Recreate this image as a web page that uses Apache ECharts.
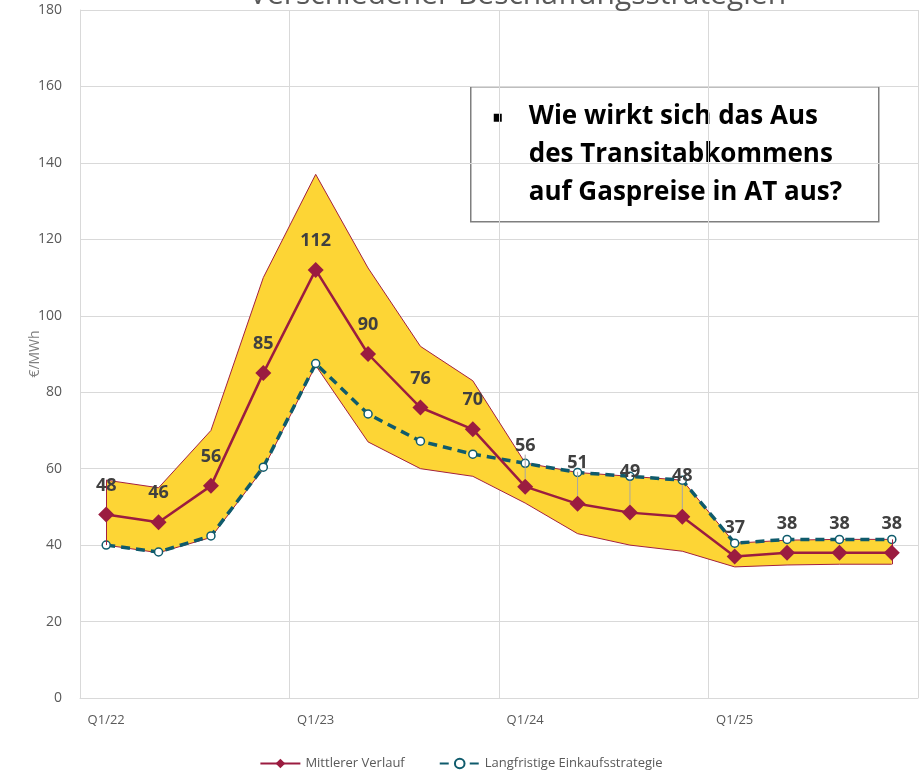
<!DOCTYPE html>
<html>
<head>
<meta charset="utf-8">
<script src="https://cdn.jsdelivr.net/npm/echarts@6/dist/echarts.min.js"></script>
<style>
  html, body { margin: 0; padding: 0; background: #fff; }
  #chart { width: 922px; height: 772px; }
</style>
</head>
<body>
<div id="chart"></div>
<script>
const quarters = ['Q1/22', 'Q2/22', 'Q3/22', 'Q4/22', 'Q1/23', 'Q2/23', 'Q3/23', 'Q4/23',
  'Q1/24', 'Q2/24', 'Q3/24', 'Q4/24', 'Q1/25', 'Q2/25', 'Q3/25', 'Q4/25']
// Bandbreite (untere / obere Grenze)
const bandLower = [40, 38, 42, 60, 87, 67, 60, 58, 51, 43, 40, 38.4, 34.3, 34.8, 35, 35]
const bandUpper = [57, 55, 70, 110, 137, 112.5, 92, 83, 61.5, 59, 58, 57, 40.5, 41.3, 41.5, 41.5]
// Mittlerer Verlauf
const midValues = [48, 46, 55.5, 85, 112, 90, 76, 70.3, 55.3, 50.8, 48.5, 47.4, 37, 38, 38, 38]
const midLabels = [48, 46, 56, 85, 112, 90, 76, 70, 56, 51, 49, 48, 37, 38, 38, 38]
// Langfristige Einkaufsstrategie
const longTerm = [40, 38.2, 42.4, 60.4, 87.5, 74.3, 67.2, 63.8, 61.4, 59, 58, 57, 40.5, 41.5, 41.5, 41.5]

const bandDiff = bandUpper.map((v, i) => v - bandLower[i])
// labels pushed up above the dashed line, with a guide line
const raisedLabels = [8, 9, 10, 11]
const midData = midValues.map((v, i) => ({
  value: v,
  labelLine: { show: raisedLabels.includes(i) }
}))

const chart = echarts.init(document.getElementById('chart'))

chart.setOption({
  animation: false,
  textStyle: { fontFamily: 'Open Sans, sans-serif' },
  graphic: [
    {
      type: 'text',
      left: 249,
      top: -20,
      style: {
        text: 'Verschiedener Beschaffungsstrategien',
        fill: '#595959',
        font: '30px "Open Sans", sans-serif'
      },
      z: 100
    },
    {
      type: 'group',
      left: 470,
      top: 86,
      children: [
        {
          type: 'rect',
          shape: { x: 0, y: 0, width: 408, height: 135 },
          style: { fill: 'rgba(0,0,0,0)', stroke: '#7f7f7f', lineWidth: 1.5 }
        },
        {
          type: 'rect',
          shape: { x: 23, y: 27, width: 8, height: 8 },
          style: { fill: '#000' }
        },
        {
          type: 'text',
          x: 58, y: 11,
          style: {
            text: 'Wie wirkt sich das Aus\ndes Transitabkommens\nauf Gaspreise in AT aus?',
            fill: '#000',
            font: 'bold 26px "Open Sans", sans-serif',
            lineHeight: 38
          }
        }
      ],
      z: 100
    }
  ],
  grid: { left: 80, right: 4, top: 10, bottom: 74 },
  legend: {
    top: 752,
    left: 'center',
    data: ['Mittlerer Verlauf', 'Langfristige Einkaufsstrategie'],
    itemWidth: 40,
    itemHeight: 12,
    itemGap: 34,
    textStyle: { color: '#595959', fontSize: 13, fontFamily: 'Open Sans, sans-serif' }
  },
  xAxis: {
    type: 'category',
    data: quarters,
    boundaryGap: true,
    axisLine: { show: true, lineStyle: { color: '#d9d9d9' } },
    axisTick: { show: false, interval: 3 },
    axisLabel: { interval: 3, color: '#595959', fontSize: 13, margin: 16 },
    splitLine: { show: true, interval: 3, lineStyle: { color: '#d9d9d9' } }
  },
  yAxis: {
    type: 'value',
    min: 0,
    max: 180,
    interval: 20,
    name: '€/MWh',
    nameLocation: 'middle',
    nameGap: 38,
    nameMoveOverlap: false,
    nameTextStyle: { color: '#7f7f7f', fontSize: 14 },
    axisLine: { show: true, lineStyle: { color: '#d9d9d9' } },
    axisTick: { show: false },
    axisLabel: { color: '#595959', fontSize: 14, margin: 18 },
    splitLine: { lineStyle: { color: '#d9d9d9' } }
  },
  series: [
    {
      name: 'Band unten',
      type: 'line',
      stack: 'band',
      data: bandLower,
      symbol: 'none',
      lineStyle: { color: '#a3203f', width: 1 },
      z: 2
    },
    {
      name: 'Bandbreite',
      type: 'line',
      stack: 'band',
      data: bandDiff,
      symbol: 'none',
      lineStyle: { color: '#a3203f', width: 1 },
      areaStyle: { color: '#fdd535', opacity: 1 },
      markLine: {
        silent: true,
        symbol: 'none',
        label: { show: false },
        lineStyle: { color: '#a3203f', width: 1, type: 'solid' },
        data: [
          [{ coord: [0, bandLower[0]] }, { coord: [0, bandUpper[0]] }],
          [{ coord: [15, bandLower[15]] }, { coord: [15, bandUpper[15]] }]
        ]
      },
      z: 2
    },
    {
      name: 'Langfristige Einkaufsstrategie',
      type: 'line',
      data: longTerm,
      symbol: 'circle',
      symbolSize: 8,
      itemStyle: { color: '#ffffff', borderColor: '#0f5b6c', borderWidth: 1.5 },
      lineStyle: { color: '#0f5b6c', width: 3.5, type: [9, 6] },
      z: 4
    },
    {
      name: 'Mittlerer Verlauf',
      type: 'line',
      data: midData,
      symbol: 'diamond',
      symbolSize: 16,
      itemStyle: { color: '#9b1c40' },
      lineStyle: { color: '#9b1c40', width: 2.5 },
      label: {
        show: true,
        position: 'top',
        distance: 12,
        color: '#404040',
        fontSize: 18,
        fontWeight: 'bold',
        fontFamily: 'Open Sans, sans-serif',
        formatter: (p) => String(midLabels[p.dataIndex])
      },
      labelLine: { show: false, lineStyle: { color: '#a6a6a6', width: 1 } },
      labelLayout: (p) => raisedLabels.includes(p.dataIndex) ? { dy: -12 } : {},
      z: 5
    }
  ]
})
</script>
</body>
</html>
